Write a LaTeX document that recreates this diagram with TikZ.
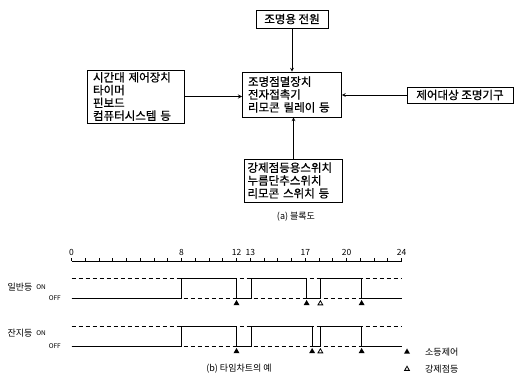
\documentclass[tikz,border=0pt]{standalone}
\usepackage{fontspec}
\newfontfamily\kr{Noto Sans CJK KR}
\newfontfamily\krb{Noto Sans CJK KR}[FakeBold=0.8]
\usetikzlibrary{positioning,calc,arrows.meta,shapes.geometric}

\begin{document}
\begin{tikzpicture}[x=1pt,y=-1pt,
    box/.style={draw,line width=0.8pt,align=left,inner xsep=4pt,inner ysep=2pt,font=\krb\fontsize{11.5}{12.8}\selectfont},
    captxt/.style={font=\kr\fontsize{9}{9}\selectfont},
    hour/.style={font=\kr\fontsize{8.5}{8.5}\selectfont,inner sep=1pt},
    rowlab/.style={font=\kr\fontsize{9}{9}\selectfont,inner sep=1pt},
    onoff/.style={font=\kr\fontsize{6.5}{6.5}\selectfont,inner sep=1pt,anchor=east},
    sodeung/.style={regular polygon,regular polygon sides=3,fill,inner sep=0pt,minimum size=7pt},
    gangje/.style={regular polygon,regular polygon sides=3,draw,line width=0.8pt,inner sep=0pt,minimum size=5.5pt},
    lvl/.style={dash pattern=on 4pt off 3pt,line width=0.5pt},
    sig/.style={line width=0.6pt}]
  \useasboundingbox (0,0) rectangle (515,377);
  % (a) block diagram
  \node[box,minimum width=72pt,minimum height=18pt] (power) at (292,19) {조명용 전원};
  \node[box,text width=88pt,inner xsep=5.5pt,minimum height=45pt] (lamp) at (292,94.5) {조명점멸장치\\전자접촉기\\리모콘 릴레이 등};
  \node[box,text width=86pt,inner xsep=5.5pt,minimum height=53pt] (timectl) at (136,96.5) {시간대 제어장치\\타이머\\핀보드\\컴퓨터시스템 등};
  \node[box,minimum width=106pt,minimum height=16pt] (target) at (460,95) {제어대상 조명기구};
  \node[box,text width=92pt,inner xsep=3pt,minimum height=43pt] (forcesw) at (293.5,180.5) {강제점등용스위치\\누름단추스위치\\리모콘 스위치 등};
  \node[captxt] (capa) at (296,217) {(a) 블록도};
  \draw[->,>=stealth,line width=0.7pt] (power) -- (lamp);
  \draw[->,>=stealth,line width=0.9pt] (timectl.east) -- (timectl.east -| lamp.west);
  \draw[->,>=stealth,line width=0.7pt] (target.west) -- (target.west -| lamp.east);
  \draw[->,>=stealth,line width=0.7pt] (forcesw.north) -- (forcesw.north |- lamp.south);
  % (b) time chart
  \begin{scope}[shift={(71.5,0)},x=13.75pt]
    \draw[sig] (0,261) -- (24,261);%time axis
    \foreach \h in {0,...,24} \draw[sig] (\h,261) -- (\h,258.5);
    \foreach \h in {0,8,12,13,17,20,24} \node[hour] (h\h) at (\h,252) {\h};
    % 일반등
    \draw[lvl] (0,278) -- (24,278) (0,298) -- (24,298);
    \draw[sig] (0,298) -| (8,278) -| (12,298) -| (13.1,278) -| (17.1,298) -| (18.1,278) -| (21.1,298) -- (24,298);
    \node[sodeung] (ao1) at (12,303.5) {};
    \node[sodeung] (ao2) at (17.1,303.5) {};
    \node[gangje] (af1) at (18.1,303.5) {};
    \node[sodeung] (ao3) at (21.1,303.5) {};
    % 잔지등
    \draw[lvl] (0,326) -- (24,326) (0,346) -- (24,346);
    \draw[sig] (0,346) -| (8,326) -| (12,346) -| (13.1,326) -| (17.5,346) -| (18.1,326) -| (21.1,346) -- (24,346);
    \node[sodeung] (bo1) at (12,351.5) {};
    \node[sodeung] (bo2) at (17.5,351.5) {};
    \node[gangje] (bf1) at (18.1,351.5) {};
    \node[sodeung] (bo3) at (21.1,351.5) {};
  \end{scope}
  \node[rowlab] (ilban) at (20,287) {일반등};
  \node[onoff] (ilbanon) at (47,287) {ON};
  \node[onoff] (ilbanoff) at (62,298) {OFF};
  \node[rowlab] (janji) at (20,333) {잔지등};
  \node[onoff] (janjion) at (47,333) {ON};
  \node[onoff] (janjioff) at (62,346) {OFF};
  \node[captxt] (capb) at (239,369) {(b) 타임차트의 예};
  % legend
  \node[sodeung] (legso) at (407,352) {};
  \node[rowlab,anchor=west] (legsotxt) at (424,352) {소등제어};
  \node[gangje] (leggj) at (407,369) {};
  \node[rowlab,anchor=west] (leggjtxt) at (424,369) {강제점등};
\end{tikzpicture}
\end{document}
